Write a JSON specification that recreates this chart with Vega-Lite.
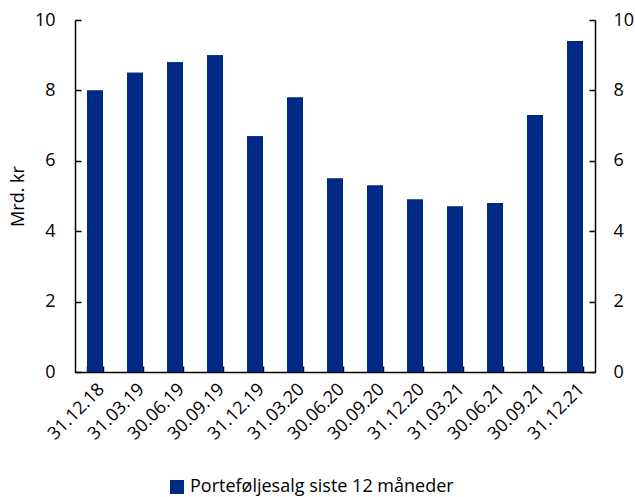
{
  "$schema": "https://vega.github.io/schema/vega-lite/v6.json",
  "width": 520,
  "height": 352,
  "autosize": {"type": "none"},
  "padding": {"left": 75, "top": 20, "right": 40, "bottom": 125},
  "background": "white",
  "config": {
    "font": "Open Sans",
    "view": {"stroke": null},
    "axis": {
      "labelFont": "Open Sans",
      "titleFont": "Open Sans",
      "labelFontSize": 18,
      "titleFontSize": 18,
      "titleFontWeight": "normal",
      "labelColor": "#000000",
      "titleColor": "#000000",
      "domainColor": "#000000",
      "tickColor": "#000000",
      "domainWidth": 1.5,
      "tickWidth": 1.5,
      "grid": false
    },
    "legend": {
      "labelFont": "Open Sans",
      "labelFontSize": 18,
      "labelColor": "#000000",
      "labelLimit": 0
    }
  },
  "data": {
    "values": [
      {"dato": "31.12.18", "verdi": 8.0, "serie": "Porteføljesalg siste 12 måneder"},
      {"dato": "31.03.19", "verdi": 8.5, "serie": "Porteføljesalg siste 12 måneder"},
      {"dato": "30.06.19", "verdi": 8.8, "serie": "Porteføljesalg siste 12 måneder"},
      {"dato": "30.09.19", "verdi": 9.0, "serie": "Porteføljesalg siste 12 måneder"},
      {"dato": "31.12.19", "verdi": 6.7, "serie": "Porteføljesalg siste 12 måneder"},
      {"dato": "31.03.20", "verdi": 7.8, "serie": "Porteføljesalg siste 12 måneder"},
      {"dato": "30.06.20", "verdi": 5.5, "serie": "Porteføljesalg siste 12 måneder"},
      {"dato": "30.09.20", "verdi": 5.3, "serie": "Porteføljesalg siste 12 måneder"},
      {"dato": "31.12.20", "verdi": 4.9, "serie": "Porteføljesalg siste 12 måneder"},
      {"dato": "31.03.21", "verdi": 4.7, "serie": "Porteføljesalg siste 12 måneder"},
      {"dato": "30.06.21", "verdi": 4.8, "serie": "Porteføljesalg siste 12 måneder"},
      {"dato": "30.09.21", "verdi": 7.3, "serie": "Porteføljesalg siste 12 måneder"},
      {"dato": "31.12.21", "verdi": 9.4, "serie": "Porteføljesalg siste 12 måneder"}
    ]
  },
  "encoding": {
    "x": {
      "field": "dato",
      "type": "nominal",
      "sort": null,
      "scale": {"paddingInner": 0.6, "paddingOuter": 0.3},
      "axis": {
        "title": null,
        "labelAngle": -45,
        "tickBand": "extent",
        "tickSize": -6,
        "labelPadding": 14,
        "domainColor": "#000000"
      }
    }
  },
  "layer": [
    {
      "mark": {"type": "bar", "color": "#002985"},
      "encoding": {
        "y": {
          "field": "verdi",
          "type": "quantitative",
          "scale": {"domain": [0, 10]},
          "axis": {
            "title": "Mrd. kr",
            "orient": "left",
            "values": [0, 2, 4, 6, 8, 10],
            "tickSize": -6,
            "labelPadding": 26,
            "titlePadding": 7
          }
        },
        "color": {
          "field": "serie",
          "type": "nominal",
          "scale": {"range": ["#002985"]},
          "legend": {
            "title": null,
            "orient": "none",
            "legendX": 93,
            "legendY": 458,
            "symbolType": "square",
            "symbolSize": 196,
            "symbolStrokeWidth": 0,
            "labelOffset": 4
          }
        }
      }
    },
    {
      "mark": {"type": "bar", "color": "#002985"},
      "encoding": {
        "y": {
          "field": "verdi",
          "type": "quantitative",
          "scale": {"domain": [0, 10]},
          "axis": {
            "title": null,
            "orient": "right",
            "values": [0, 2, 4, 6, 8, 10],
            "tickSize": -6,
            "labelPadding": 24
          }
        },
        "color": {
          "field": "serie",
          "type": "nominal",
          "scale": {"range": ["#002985"]},
          "legend": null
        }
      }
    }
  ],
  "resolve": {"scale": {"y": "independent"}}
}
